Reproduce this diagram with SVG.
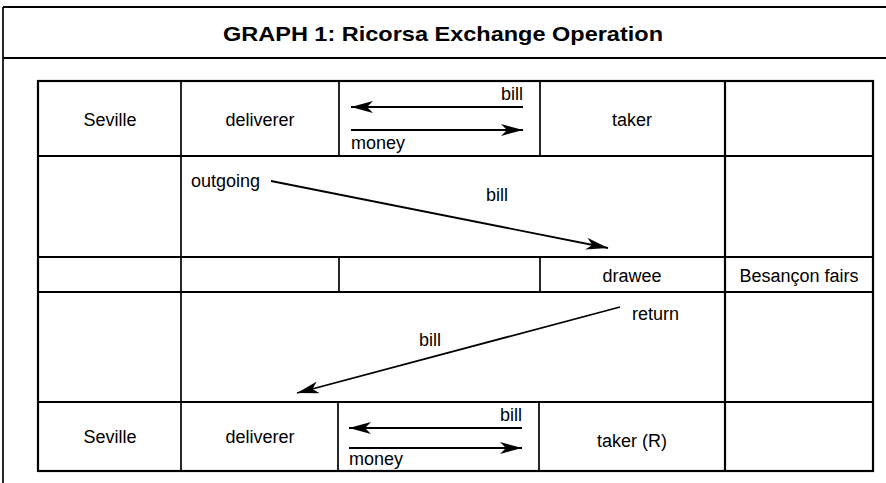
<svg xmlns="http://www.w3.org/2000/svg" width="886" height="483" viewBox="0 0 886 483">
<defs>
<style>
.t{font-family:"Liberation Sans",Arial,sans-serif;font-size:18px;fill:#000}
.m{text-anchor:middle}
.b{stroke:#000;stroke-width:2.2;fill:none}
.c{stroke:#000;stroke-width:1.7;fill:none}
.a{stroke:#000;stroke-width:1.8;fill:none}
</style>
<marker id="ah" viewBox="0 0 22 12" refX="22" refY="6" markerWidth="22" markerHeight="12" markerUnits="userSpaceOnUse" orient="auto">
<path d="M0,0 L22,6 L0,12 L6,6 Z" fill="#000"/>
</marker>
</defs>
<rect width="886" height="483" fill="#fff"/>
<g id="frame">
<line class="b" x1="3" y1="7" x2="886" y2="7"/>
<line class="b" x1="3" y1="58" x2="886" y2="58"/>
<line class="c" x1="3" y1="7" x2="3" y2="483"/>
<text x="443" y="41" text-anchor="middle" font-family="'Liberation Sans',Arial,sans-serif" font-weight="bold" font-size="21" textLength="440" lengthAdjust="spacingAndGlyphs">GRAPH 1: Ricorsa Exchange Operation</text>
</g>
<g id="table">
<rect class="b" x="38" y="81" width="835" height="390"/>
<line class="b" x1="38" y1="156" x2="873" y2="156"/>
<line class="b" x1="38" y1="257" x2="873" y2="257"/>
<line class="b" x1="38" y1="292" x2="873" y2="292"/>
<line class="b" x1="38" y1="402" x2="873" y2="402"/>
<line class="c" x1="181" y1="81" x2="181" y2="471"/>
<line class="b" x1="725" y1="81" x2="725" y2="471"/>
<line class="c" x1="339" y1="81" x2="339" y2="156"/>
<line class="c" x1="540" y1="81" x2="540" y2="156"/>
<line class="c" x1="339" y1="257" x2="339" y2="292"/>
<line class="c" x1="540" y1="257" x2="540" y2="292"/>
<line class="c" x1="338" y1="402" x2="338" y2="471"/>
<line class="c" x1="539" y1="402" x2="539" y2="471"/>
</g>
<g id="row1">
<text class="t m" x="110" y="126">Seville</text>
<text class="t m" x="260" y="126">deliverer</text>
<text class="t m" x="632" y="126">taker</text>
<text class="t" x="523" y="100" text-anchor="end">bill</text>
<text class="t" x="351" y="149">money</text>
</g>
<g id="row2">
<text class="t" x="191" y="187">outgoing</text>
<text class="t m" x="497" y="201">bill</text>
</g>
<g id="row3">
<text class="t m" x="632" y="282">drawee</text>
<text class="t m" x="799" y="282">Besançon fairs</text>
</g>
<g id="row4">
<text class="t" x="632" y="320">return</text>
<text class="t m" x="430" y="346">bill</text>
</g>
<g id="row5">
<text class="t m" x="110" y="443">Seville</text>
<text class="t m" x="260" y="443">deliverer</text>
<text class="t m" x="632" y="447">taker (R)</text>
<text class="t" x="522" y="421" text-anchor="end">bill</text>
<text class="t" x="349" y="465">money</text>
</g>
<g id="connectors">
<line class="a" x1="523" y1="107" x2="351" y2="107" marker-end="url(#ah)"/>
<line class="a" x1="351" y1="130" x2="523" y2="130" marker-end="url(#ah)"/>
<line class="a" x1="271" y1="181" x2="608" y2="248" marker-end="url(#ah)"/>
<line class="a" x1="620" y1="307" x2="297" y2="393" marker-end="url(#ah)"/>
<line class="a" x1="522" y1="428" x2="349" y2="428" marker-end="url(#ah)"/>
<line class="a" x1="349" y1="448" x2="522" y2="448" marker-end="url(#ah)"/>
</g>
</svg>
